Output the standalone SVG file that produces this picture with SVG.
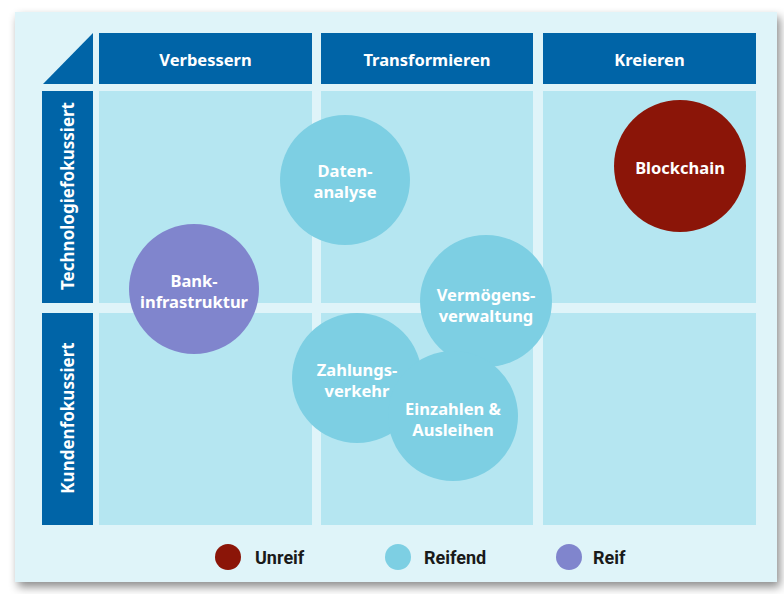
<svg xmlns="http://www.w3.org/2000/svg" width="784" height="594" viewBox="0 0 784 594">
<defs>
<filter id="sh" x="-5%" y="-5%" width="112%" height="115%">
<feDropShadow dx="3" dy="5" stdDeviation="5" flood-color="#000" flood-opacity="0.45"/>
</filter>
<style>
.hd{fill:#0064a7}
.cell{fill:#b5e6f1}
.ht{font-family:"Noto Sans","Open Sans",sans-serif;font-weight:bold;font-size:16.5px;fill:#fff;text-anchor:middle;dominant-baseline:central}
.rt{font-family:"Noto Sans","Open Sans",sans-serif;font-weight:bold;font-size:17px;fill:#fff;text-anchor:middle;dominant-baseline:central}
.ct{font-family:"Noto Sans","Open Sans",sans-serif;font-weight:bold;font-size:16.5px;fill:#fff;text-anchor:middle;dominant-baseline:central}
.lt{font-family:"Roboto","Liberation Sans",sans-serif;font-weight:bold;font-size:18px;fill:#1a1a1a;dominant-baseline:central}
.reifend{fill:#7dcfe3}
.reif{fill:#8085cd}
.unreif{fill:#8b1508}
</style>
</defs>
<rect x="15" y="12" width="762" height="570" fill="#dff4f9" filter="url(#sh)"/>
<g id="header">
<polygon class="hd" points="43,84 93,33 93,84"/>
<g id="col-verbessern"><rect class="hd" x="99" y="33" width="213" height="51"/><text class="ht" x="205.5" y="59">Verbessern</text></g>
<g id="col-transformieren"><rect class="hd" x="321" y="33" width="212" height="51"/><text class="ht" x="427" y="59">Transformieren</text></g>
<g id="col-kreieren"><rect class="hd" x="543" y="33" width="213" height="51"/><text class="ht" x="649.5" y="59">Kreieren</text></g>
<g id="row-tech"><rect class="hd" x="42" y="91" width="51" height="212"/><text class="rt" transform="translate(67,196) rotate(-90)" x="0" y="0">Technologiefokussiert</text></g>
<g id="row-kunden"><rect class="hd" x="42" y="313" width="51" height="212"/><text class="rt" transform="translate(67,418) rotate(-90)" x="0" y="0">Kundenfokussiert</text></g>
</g>
<g id="cells">
<rect class="cell" x="99" y="91" width="213" height="212"/>
<rect class="cell" x="321" y="91" width="212" height="212"/>
<rect class="cell" x="543" y="91" width="213" height="212"/>
<rect class="cell" x="99" y="313" width="213" height="212"/>
<rect class="cell" x="321" y="313" width="212" height="212"/>
<rect class="cell" x="543" y="313" width="213" height="212"/>
</g>
<g id="connectors"/>
<g id="datenanalyse"><circle class="reifend" cx="345" cy="180" r="65"/><text class="ct" x="345" y="170">Daten-</text><text class="ct" x="345" y="191">analyse</text></g>
<g id="blockchain"><circle class="unreif" cx="680" cy="166" r="66"/><text class="ct" x="680" y="167">Blockchain</text></g>
<g id="bankinfrastruktur"><circle class="reif" cx="194" cy="289" r="65"/><text class="ct" x="194" y="280">Bank-</text><text class="ct" x="194" y="301">infrastruktur</text></g>
<g id="vermoegensverwaltung"><circle class="reifend" cx="486" cy="301" r="66"/><text class="ct" x="486" y="294">Vermögens-</text><text class="ct" x="486" y="315">verwaltung</text></g>
<g id="zahlungsverkehr"><circle class="reifend" cx="357" cy="378" r="65"/><text class="ct" x="357" y="369">Zahlungs-</text><text class="ct" x="357" y="390">verkehr</text></g>
<g id="einzahlen"><circle class="reifend" cx="453" cy="416" r="65"/><text class="ct" x="453" y="408">Einzahlen &amp;</text><text class="ct" x="453" y="429">Ausleihen</text></g>
<g id="legend">
<g id="leg-unreif"><circle class="unreif" cx="228" cy="557" r="13"/><text class="lt" x="255" y="557">Unreif</text></g>
<g id="leg-reifend"><circle class="reifend" cx="398" cy="557" r="13"/><text class="lt" x="424" y="557">Reifend</text></g>
<g id="leg-reif"><circle class="reif" cx="569" cy="557" r="13"/><text class="lt" x="593" y="557">Reif</text></g>
</g>
</svg>
